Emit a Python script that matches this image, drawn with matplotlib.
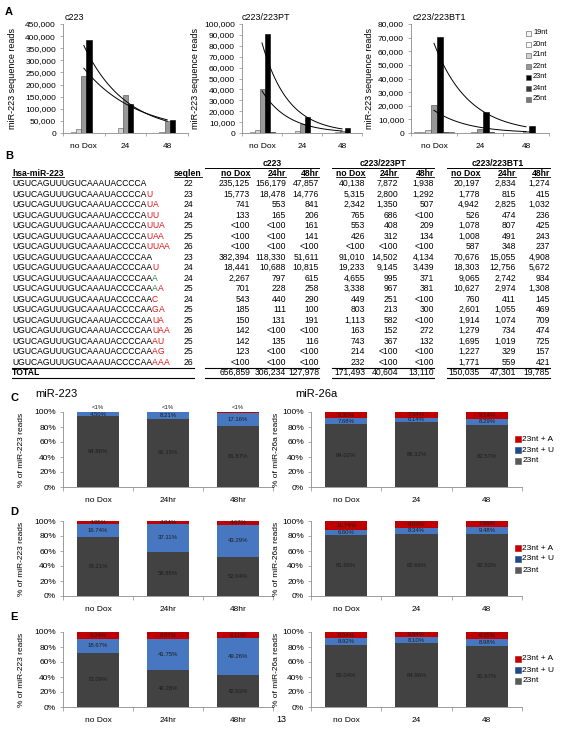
import numpy as np
import matplotlib
matplotlib.use("Agg")
import matplotlib.pyplot as plt
from matplotlib.patches import Rectangle
from matplotlib.lines import Line2D
from matplotlib.ticker import FuncFormatter, FixedLocator

plt.rcParams['font.family'] = ['Liberation Sans', 'DejaVu Sans']
plt.rcParams['axes.linewidth'] = 0.6

W, H = 562, 732
fig = plt.figure(figsize=(W / 100, H / 100), dpi=100)
fig.patch.set_facecolor('white')

# ------------------------------------------------------------------ data
a_times = ["no Dox", "24", "48"]
nt_names = ["19nt", "20nt", "21nt", "22nt", "23nt", "24nt", "25nt"]
c223_len_reads = [
    [900, 400, 200],
    [2500, 1500, 600],
    [15000, 22000, 5000],
    [235125, 156179, 47857],
    [382394, 118330, 51611],
    [1500, 700, 300],
    [500, 250, 100],
]
pt_len_reads = [
    [300, 150, 80],
    [600, 300, 150],
    [2500, 1600, 700],
    [40138, 7872, 1938],
    [91010, 14502, 4134],
    [500, 250, 120],
    [200, 100, 60],
]
bt1_len_reads = [
    [600, 250, 150],
    [800, 350, 200],
    [2200, 700, 300],
    [20197, 2834, 1274],
    [70676, 15055, 4908],
    [900, 500, 300],
    [500, 250, 150],
]

seq_base = ["UGUCAGUUUGUCAAAUACCCCA"] * 7 + ["UGUCAGUUUGUCAAAUACCCCAA"] * 11
seq_added = ["", "U", "UA", "UU", "UUA", "UAA", "UUAA",
             "", "U", "A", "AA", "C", "GA", "UA", "UAA", "AU", "AG", "AAA"]
seq_added_colors = ["", "r", "rr", "rr", "rrr", "rrr", "rrrr",
                    "", "r", "g", "gr", "r", "rr", "rr", "rrr", "rr", "rr", "rrr"]
seqlen = [22, 23, 24, 24, 25, 25, 26, 23, 24, 24, 25, 24, 25, 25, 26, 25, 25, 26]
table_groups = ["c223", "c223/223PT", "c223/223BT1"]
table_cols = ["no Dox", "24hr", "48hr"]
c223_counts = [
    ["235,125", "156,179", "47,857"], ["15,773", "18,478", "14,776"], ["741", "553", "841"],
    ["133", "165", "206"], ["<100", "<100", "161"], ["<100", "<100", "141"],
    ["<100", "<100", "<100"], ["382,394", "118,330", "51,611"], ["18,441", "10,688", "10,815"],
    ["2,267", "797", "615"], ["701", "228", "258"], ["543", "440", "290"],
    ["185", "111", "100"], ["150", "131", "191"], ["142", "<100", "<100"],
    ["142", "135", "116"], ["123", "<100", "<100"], ["<100", "<100", "<100"],
]
pt_counts = [
    ["40,138", "7,872", "1,938"], ["5,315", "2,800", "1,292"], ["2,342", "1,350", "507"],
    ["765", "686", "<100"], ["553", "408", "209"], ["426", "312", "134"],
    ["<100", "<100", "<100"], ["91,010", "14,502", "4,134"], ["19,233", "9,145", "3,439"],
    ["4,655", "995", "371"], ["3,338", "967", "381"], ["449", "251", "<100"],
    ["803", "213", "300"], ["1,113", "582", "<100"], ["163", "152", "272"],
    ["743", "367", "132"], ["214", "<100", "<100"], ["232", "<100", "<100"],
]
bt1_counts = [
    ["20,197", "2,834", "1,274"], ["1,778", "815", "415"], ["4,942", "2,825", "1,032"],
    ["526", "474", "236"], ["1,078", "807", "425"], ["1,008", "491", "243"],
    ["587", "348", "237"], ["70,676", "15,055", "4,908"], ["18,303", "12,756", "5,672"],
    ["9,065", "2,742", "934"], ["10,627", "2,974", "1,308"], ["760", "411", "145"],
    ["2,601", "1,055", "469"], ["1,914", "1,074", "709"], ["1,279", "734", "474"],
    ["1,695", "1,019", "725"], ["1,227", "329", "157"], ["1,771", "559", "421"],
]
c223_total = ["656,859", "306,234", "127,978"]
pt_total = ["171,493", "40,604", "13,110"]
bt1_total = ["150,035", "47,301", "19,785"]

mir223_times = ["no Dox", "24hr", "48hr"]
mir26a_times = ["no Dox", "24", "48"]
pct_series = ["23nt + A", "23nt + U", "23nt"]
C_223_nt = [94.86, 91.15, 81.87]
C_223_U = [4.50, 8.21, 17.16]
C_223_A = [0.64, 0.64, 0.97]
C_26a_nt = [84.02, 86.32, 82.57]
C_26a_U = [7.68, 6.14, 8.29]
C_26a_A = [8.30, 7.54, 9.14]
D_223_nt = [79.21, 58.85, 52.04]
D_223_U = [16.74, 37.11, 43.29]
D_223_A = [4.05, 4.04, 4.67]
D_26a_nt = [81.66, 82.66, 82.53]
D_26a_U = [6.60, 8.34, 9.48]
D_26a_A = [11.74, 9.00, 7.99]
E_223_nt = [72.09, 49.28, 42.63]
E_223_U = [18.67, 41.75, 49.26]
E_223_A = [9.24, 8.97, 8.11]
E_26a_nt = [83.04, 84.96, 81.67]
E_26a_U = [8.92, 8.10, 8.98]
E_26a_A = [8.04, 6.94, 9.35]

# ------------------------------------------------------------------ helpers
def px_axes(l, t, r, b):
    return fig.add_axes([l / W, 1 - b / H, (r - l) / W, (b - t) / H])


def ftext(x, y, s, **kw):
    return fig.text(x / W, 1 - y / H, s, **kw)


def hline(x0, x1, y, lw=0.7, color='black'):
    fig.add_artist(Line2D([x0 / W, x1 / W], [1 - y / H, 1 - y / H],
                          transform=fig.transFigure, lw=lw, color=color))


def swatch(x, y, size, color, edge=None):
    fig.add_artist(Rectangle((x / W, 1 - (y + size / 2) / H), size / W, size / H,
                             transform=fig.transFigure, facecolor=color,
                             edgecolor=edge if edge else color, linewidth=0.4))


GRID = '#8c8c8c'

# ------------------------------------------------------------------ panel A
nt_colors = ["#f4f4f4", "#ffffff", "#d2d2d2", "#989898", "#000000", "#383838", "#7a7a7a"]
nt_edges = ["#555555", "#555555", "#555555", "#444444", "#000000", "#222222", "#444444"]


def draw_len_chart(box, reads, ymax, ystep, title, title_x, ylabel_x):
    ax = px_axes(*box)
    x = np.arange(len(a_times))
    w = 0.125
    for i, vals in enumerate(reads):
        ax.bar(x + (i - 3) * w, vals, width=w, color=nt_colors[i],
               edgecolor=nt_edges[i], linewidth=0.4, zorder=2)
    xs = np.linspace(0, 2, 80)
    for i in (3, 4):
        k, c = np.polyfit(x, np.log(reads[i]), 1)
        ax.plot(xs, np.exp(c + k * xs), color='black', lw=0.7, zorder=3)
    ax.set_xlim(-0.5, 2.5)
    ax.set_ylim(0, ymax)
    ax.set_yticks(np.arange(0, ymax + 1, ystep))
    ax.yaxis.set_major_formatter(FuncFormatter(lambda v, p: f"{int(round(v)):,}"))
    ax.set_xticks(x)
    ax.set_xticklabels(a_times)
    ax.xaxis.set_minor_locator(FixedLocator([-0.5, 0.5, 1.5, 2.5]))
    ax.tick_params(axis='x', which='major', length=0, pad=7, labelsize=6)
    ax.tick_params(axis='x', which='minor', length=2.5, width=0.5, color=GRID)
    ax.tick_params(axis='y', length=2, width=0.5, pad=3, labelsize=6, color=GRID)
    for s in ('top', 'right'):
        ax.spines[s].set_visible(False)
    for s in ('left', 'bottom'):
        ax.spines[s].set_color(GRID)
    ax.patch.set_alpha(0)
    ftext(title_x, 17, title, fontsize=6.5, ha='left', va='center')
    ftext(ylabel_x, (box[1] + box[3]) / 2, "miR-223 sequence reads", rotation=90,
          fontsize=6.5, ha='center', va='center')
    return ax


draw_len_chart((63, 24, 188, 133), c223_len_reads, 450000, 50000, "c223", 65, 13)
draw_len_chart((242, 24, 362, 133), pt_len_reads, 100000, 10000, "c223/223PT", 242, 195)
draw_len_chart((411, 24, 549, 133), bt1_len_reads, 80000, 10000, "c223/223BT1", 413, 369)

for i, name in enumerate(nt_names):
    yy = 33 + i * 11
    swatch(526, yy, 5, nt_colors[i], '#555555')
    ftext(533, yy, name, fontsize=5.3, ha='left', va='center')

ftext(5, 12, "A", fontsize=8, fontweight='bold', ha='left', va='center')

# ------------------------------------------------------------------ panel B
renderer = fig.canvas.get_renderer()
tfs = 6.2
color_map = {'r': '#e0161b', 'g': '#2f8a3a'}


def underline(t):
    bb = t.get_window_extent(renderer=renderer)
    y = bb.y0 + 1.0
    fig.add_artist(Line2D([bb.x0 / W, bb.x1 / W], [y / H, y / H],
                          transform=fig.transFigure, lw=0.6, color='black'))


ftext(5, 156, "B", fontsize=8, fontweight='bold', ha='left', va='center')

row_y0 = 183.7
row_dy = 10.5
hdr_y = 173.2
grp_y = 163.0
seq_x = 12
seqlen_x = 188
col_right = [[250, 286, 319], [365, 398, 434], [480, 516, 550]]
grp_span = [(205, 319), (332, 434), (447, 550)]
grp_center = [272, 383, 498]

t = ftext(seq_x, hdr_y, "hsa-miR-223", fontsize=tfs, fontweight='bold', ha='left', va='center')
underline(t)
t = ftext(seqlen_x, hdr_y, "seqlen", fontsize=tfs, fontweight='bold', ha='center', va='center')
underline(t)

for g, gname in enumerate(table_groups):
    ftext(grp_center[g], grp_y, gname, fontsize=tfs, fontweight='bold', ha='center', va='center')
    hline(grp_span[g][0], grp_span[g][1], 168.3, lw=0.7)
    for c, cname in enumerate(table_cols):
        t = ftext(col_right[g][c], hdr_y, cname, fontsize=tfs, fontweight='bold',
                  ha='right', va='center')
        underline(t)

all_counts = [c223_counts, pt_counts, bt1_counts]
all_totals = [c223_total, pt_total, bt1_total]

for i in range(len(seq_base)):
    y = row_y0 + i * row_dy
    t = ftext(seq_x, y, seq_base[i], fontsize=tfs, ha='left', va='center')
    xcur = t.get_window_extent(renderer=renderer).x1
    for ch, cc in zip(seq_added[i], seq_added_colors[i]):
        t2 = fig.text(xcur / W, 1 - y / H, ch, fontsize=tfs, ha='left', va='center',
                      color=color_map[cc])
        xcur = t2.get_window_extent(renderer=renderer).x1
    ftext(seqlen_x, y, str(seqlen[i]), fontsize=tfs, ha='center', va='center')
    for g in range(3):
        for c in range(3):
            ftext(col_right[g][c], y, all_counts[g][i][c], fontsize=tfs, ha='right', va='center')

ty = row_y0 + len(seq_base) * row_dy
ftext(seq_x, ty, "TOTAL", fontsize=tfs, fontweight='bold', ha='left', va='center')
for g in range(3):
    for c in range(3):
        ftext(col_right[g][c], ty, all_totals[g][c], fontsize=tfs, ha='right', va='center')
for (x0, x1) in [(12, 194)] + grp_span:
    hline(x0, x1, ty - 5.2, lw=0.8)
    hline(x0, x1, ty + 5.0, lw=0.8)

# ------------------------------------------------------------------ panels C-E
COL_NT = '#424242'
COL_U = '#4677c0'
COL_A = '#c00000'
LEG_COLS = ['#c00000', '#1f4a8a', '#5a5a5a']


def draw_pct(box, times, nt, U, A, ylabel, ylabel_x, legend=False):
    ax = px_axes(*box)
    x = np.arange(len(times))
    nt = np.array(nt)
    U = np.array(U)
    A = np.array(A)
    ax.bar(x, nt, width=0.6, color=COL_NT, zorder=2)
    ax.bar(x, U, bottom=nt, width=0.6, color=COL_U, zorder=2)
    ax.bar(x, A, bottom=nt + U, width=0.6, color=COL_A, zorder=2)
    lab = dict(fontsize=4.3, ha='center', va='center', color='#1e1e1e', zorder=4)
    for i in range(len(x)):
        ax.text(x[i], nt[i] / 2, f"{nt[i]:.2f}%", **lab)
        ax.text(x[i], nt[i] + U[i] / 2, f"{U[i]:.2f}%", **lab)
        if A[i] < 1:
            ax.text(x[i], 106, "<1%", clip_on=False, **lab)
        else:
            ax.text(x[i], nt[i] + U[i] + A[i] / 2, f"{A[i]:.2f}%", **lab)
    ax.set_xlim(-0.5, 2.5)
    ax.set_ylim(0, 100)
    ax.set_yticks(np.arange(0, 101, 20))
    ax.yaxis.set_major_formatter(FuncFormatter(lambda v, p: f"{int(v)}%"))
    ax.set_xticks(x)
    ax.set_xticklabels(times)
    ax.xaxis.set_minor_locator(FixedLocator([-0.5, 0.5, 1.5, 2.5]))
    ax.tick_params(axis='x', which='major', length=0, pad=7, labelsize=6)
    ax.tick_params(axis='x', which='minor', length=3, width=0.5, color=GRID)
    ax.tick_params(axis='y', length=2, width=0.5, pad=3, labelsize=6, color=GRID)
    for s in ('top', 'right'):
        ax.spines[s].set_visible(False)
    for s in ('left', 'bottom'):
        ax.spines[s].set_color(GRID)
    ax.patch.set_alpha(0)
    ftext(ylabel_x, (box[1] + box[3]) / 2, ylabel, rotation=90, fontsize=6,
          ha='center', va='center')
    if legend:
        for k, name in enumerate(pct_series):
            yy = box[1] + 27 + k * 11
            swatch(514.5, yy, 6, LEG_COLS[k])
            ftext(522.5, yy, name, fontsize=6, ha='left', va='center')
    return ax


panel_rows = [
    ("C", 398, (412, 487), (C_223_nt, C_223_U, C_223_A), (C_26a_nt, C_26a_U, C_26a_A)),
    ("D", 512, (521, 596), (D_223_nt, D_223_U, D_223_A), (D_26a_nt, D_26a_U, D_26a_A)),
    ("E", 617, (632, 707), (E_223_nt, E_223_U, E_223_A), (E_26a_nt, E_26a_U, E_26a_A)),
]
for letter, ly, (t, b), left_data, right_data in panel_rows:
    ftext(10, ly, letter, fontsize=8, fontweight='bold', ha='left', va='center')
    draw_pct((63, t, 273, b), mir223_times, *left_data, "% of miR-223 reads", 22)
    draw_pct((311, t, 522, b), mir26a_times, *right_data, "% of miR-26a reads", 277, legend=True)

ftext(35, 394, "miR-223", fontsize=8, ha='left', va='center')
ftext(295, 394, "miR-26a", fontsize=8, ha='left', va='center')
ftext(281, 720, "13", fontsize=6.5, ha='center', va='center')

fig.savefig("out.png", dpi=100, facecolor='white')
